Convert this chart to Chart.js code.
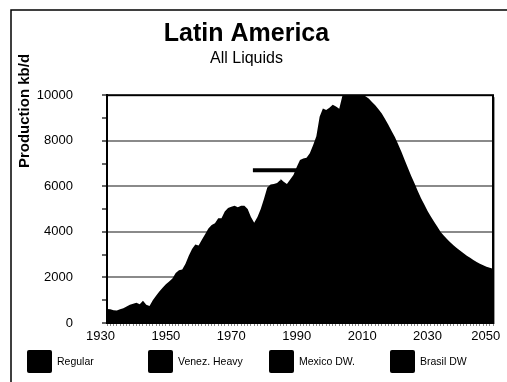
<!DOCTYPE html>
<html>
<head>
<meta charset="utf-8">
<script src="https://cdn.jsdelivr.net/npm/chart.js@4.4.1/dist/chart.umd.min.js"></script>
<style>
  html, body { margin: 0; padding: 0; background: #fff; }
  #wrap { width: 507px; height: 382px; }
</style>
</head>
<body>
<div id="wrap"><canvas id="myChart" width="507" height="382"></canvas></div>
<script>
// production, kb/d
var firstYear = 1932;
var lastYear = 2050;

var seriesNames = ['Regular', 'Venez. Heavy', 'Mexico DW.', 'Brasil DW'];

var regular = [
    620, 600, 560, 550, 600, 650, 720, 800, 850, 890,        // 1932-1941
    820, 980, 800, 750, 1000, 1200, 1380, 1550, 1700, 1820,  // 1942-1951
    1950, 2200, 2320, 2350, 2600, 2950, 3250, 3450, 3400, 3650,
    3900, 4150, 4300, 4380, 4600, 4600, 4900, 5050, 5100, 5150,
    5080, 5150, 5150, 5000, 4650, 4400, 4650, 5000, 5450, 5950,
    6080, 6100, 6150, 6280, 6100, 5950, 6100, 6250, 6550, 6800,
    6820, 6800, 6950, 7200, 7500, 8250, 8420, 8150, 8050, 7980,
    7750, 7500, 7950, 7950, 7900, 7820, 7700, 7550, 7300, 7050,
    6800, 6600, 6410, 6180, 6000, 5750, 5500, 5230, 5070, 4850,
    4620, 4350, 4100, 3850, 3650, 3440, 3240, 3080, 2920, 2760,
    2610, 2460, 2320, 2230, 2160, 2090, 2040, 2000, 1970, 1910,
    1850, 1810, 1770, 1730, 1700, 1680, 1670, 1670, 1680     // 2042-2050
];

var venezFrom = 1998;
var venezHeavy = [
    100, 200, 300, 400, 450, 500, 550, 600,
    600, 600, 600, 600, 600, 600, 600, 600, 600, 600,
    600, 600, 600, 600, 600, 600, 600, 600, 600, 600,
    600, 600, 600, 600, 600,
    590, 580, 570, 560, 550, 540, 530, 520, 510, 500,
    490, 480, 470, 460, 450, 440, 430, 420, 410, 400
];

var mexicoFrom = 2010;
var mexicoDW = [
    50, 100, 150, 200, 250, 300, 350, 400, 450, 500,
    500, 500, 500, 500, 500, 500,
    480, 460, 440, 420, 400, 380, 360, 340, 320, 300,
    280, 260, 240, 220, 200, 180, 160, 140, 120, 100,
    80, 60, 40, 20, 0
];

var brasilFrom = 1985;
var brasilDW = [
    50, 100, 150, 200, 250, 300, 350, 400, 450, 500,
    600, 700, 800, 900, 1000, 1100, 1200, 1300, 1400, 1500,
    1600, 1700, 1800, 1900, 2000, 2100, 2200, 2300, 2300, 2300,
    2300, 2250, 2200, 2150, 2100, 2000, 1900, 1800, 1700, 1600,
    1500, 1400, 1300, 1200, 1100, 1000, 950, 900, 850, 800,
    750, 700, 650, 600, 550, 500, 480, 460, 440, 420,
    400, 380, 360, 340, 320, 300
];

// the short black bar drawn over the 1977-1991 stretch
var barYears = [1976.6, 1991];
var barLevel = [6700, 6700];

var xTickLabels = [1930, 1950, 1970, 1990, 2010, 2030, 2050];
var yTickLabels = [0, 2000, 4000, 6000, 8000, 10000];

function toPoints(values, start) {
    return values.map(function (v, i) { return { x: start + i, y: v }; });
}

var font = '"Liberation Sans", Arial, sans-serif';

function areaSet(label, values, start) {
    return {
        label: label,
        data: toPoints(values, start),
        backgroundColor: '#000',
        borderColor: '#000',
        borderWidth: 0,
        pointRadius: 0,
        fill: 'origin',
        stack: 'liquids'
    };
}

var framePlugin = {
    id: 'frame',
    afterDraw: function (chart) {
        var ctx = chart.ctx;
        var a = chart.chartArea;
        ctx.save();
        // outer frame
        ctx.strokeStyle = '#000';
        ctx.lineWidth = 1.5;
        ctx.beginPath();
        ctx.moveTo(11, 390);
        ctx.lineTo(11, 10);
        ctx.lineTo(510, 10);
        ctx.stroke();
        // plot frame, with a light shadow on the right
        ctx.strokeStyle = '#999';
        ctx.lineWidth = 1;
        ctx.beginPath();
        ctx.moveTo(a.right + 1.5, a.top + 2);
        ctx.lineTo(a.right + 1.5, a.bottom + 1);
        ctx.stroke();
        ctx.strokeStyle = '#000';
        ctx.lineWidth = 2;
        ctx.strokeRect(a.left, a.top, a.right - a.left, a.bottom - a.top);
        // y title
        ctx.translate(25, 111);
        ctx.rotate(-Math.PI / 2);
        ctx.font = 'bold 15px ' + font;
        ctx.fillStyle = '#000';
        ctx.textAlign = 'center';
        ctx.textBaseline = 'middle';
        ctx.fillText('Production kb/d', 0, 0);
        ctx.restore();

        // legend
        ctx.save();
        ctx.font = '10.5px ' + font;
        ctx.textBaseline = 'middle';
        ctx.textAlign = 'left';
        seriesNames.forEach(function (name, i) {
            var bx = 27 + i * 121;
            ctx.fillStyle = '#000';
            ctx.beginPath();
            ctx.roundRect(bx, 350, 25, 23, 2);
            ctx.fill();
            ctx.fillText(name, bx + 30, 362);
        });
        ctx.restore();
    }
};

var ctx = document.getElementById('myChart').getContext('2d');

var myChart = new Chart(ctx, {
    type: 'line',
    data: {
        datasets: [
            areaSet(seriesNames[0], regular, firstYear),
            areaSet(seriesNames[1], venezHeavy, venezFrom),
            areaSet(seriesNames[2], mexicoDW, mexicoFrom),
            areaSet(seriesNames[3], brasilDW, brasilFrom),
            {
                label: '',
                data: barYears.map(function (x, i) { return { x: x, y: barLevel[i] }; }),
                borderColor: '#000',
                borderWidth: 4,
                pointRadius: 0,
                fill: false,
                stack: 'bar'
            }
        ]
    },
    options: {
        responsive: false,
        animation: false,
        devicePixelRatio: 1,
        layout: { padding: { left: 0, right: 14, top: 10, bottom: 0 } },
        plugins: {
            legend: { display: false },
            tooltip: { enabled: false },
            title: {
                display: true,
                text: 'Latin America',
                color: '#000',
                font: { family: font, size: 25, weight: 'bold', lineHeight: 1.2 },
                padding: { top: 9, bottom: 0 }
            },
            subtitle: {
                display: true,
                text: 'All Liquids',
                color: '#000',
                font: { family: font, size: 16, lineHeight: 1.2 },
                padding: { top: 0, bottom: 27 }
            }
        },
        scales: {
            x: {
                type: 'linear',
                min: firstYear,
                max: lastYear,
                afterBuildTicks: function (scale) {
                    var t = [{ value: xTickLabels[0] }];
                    for (var y = firstYear; y <= lastYear; y++) t.push({ value: y });
                    scale.ticks = t;
                },
                afterFit: function (scale) {
                    scale.height = 59;
                    scale.paddingLeft = 0;
                    scale.paddingRight = 0;
                },
                ticks: {
                    autoSkip: false,
                    maxRotation: 0,
                    padding: 3,
                    color: '#000',
                    font: { family: font, size: 13 },
                    callback: function (v) {
                        if (xTickLabels.indexOf(v) < 0) return '';
                        // last label sits inside the frame, as in the original
                        return v === lastYear ? String(v) + '    ' : String(v);
                    }
                },
                grid: {
                    drawOnChartArea: false,
                    tickLength: 3,
                    tickColor: function (c) { return c.tick && c.tick.value < firstYear ? 'rgba(0,0,0,0)' : '#888'; }
                },
                border: { color: '#000', width: 1 }
            },
            y: {
                stacked: true,
                min: 0,
                max: 10000,
                afterFit: function (scale) { scale.width = 107; },
                ticks: {
                    stepSize: 1000,
                    padding: 29,
                    color: '#000',
                    font: { family: font, size: 13 },
                    callback: function (v) { return yTickLabels.indexOf(v) >= 0 ? String(v) : ''; }
                },
                grid: {
                    lineWidth: 2,
                    tickLength: 5,
                    tickWidth: 1.5,
                    tickColor: '#333',
                    color: function (c) {
                        var v = c.tick ? c.tick.value : 0;
                        return (v > 0 && v < 10000 && v % 2000 === 0) ? '#8a8a8a' : 'rgba(0,0,0,0)';
                    }
                },
                border: { color: '#000', width: 2 }
            }
        }
    },
    plugins: [framePlugin]
});
</script>
</body>
</html>
